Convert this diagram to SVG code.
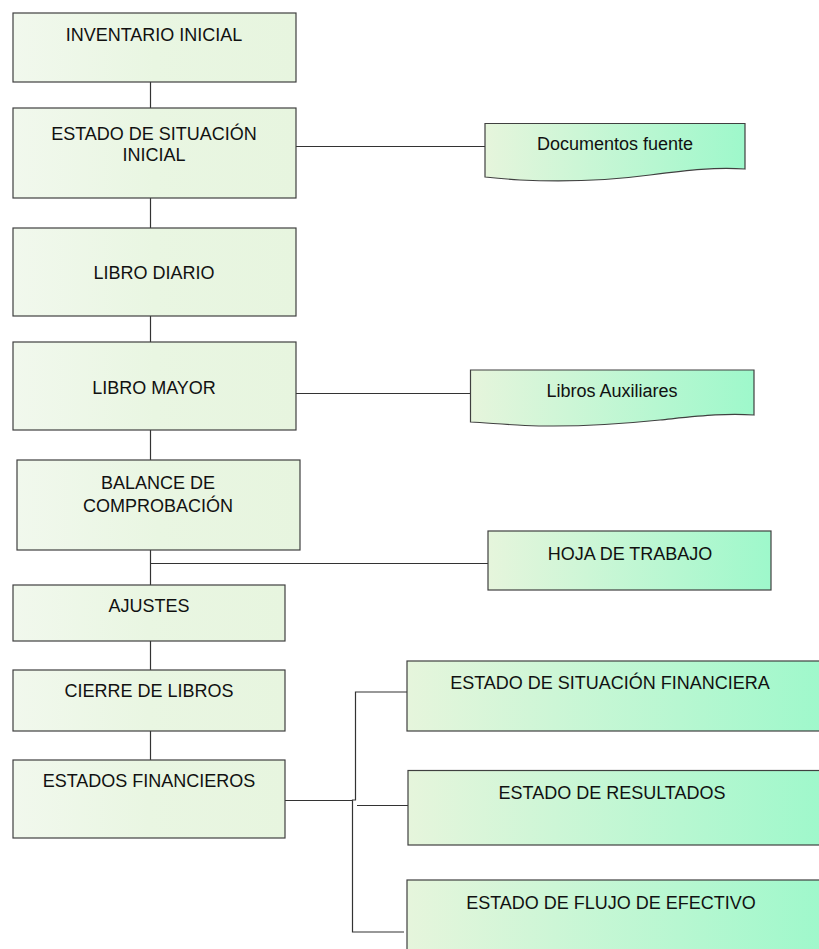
<svg xmlns="http://www.w3.org/2000/svg" width="819" height="949" viewBox="0 0 819 949">
<style>
.l{fill:url(#gl);stroke:#404040;stroke-width:1.2}
.r{fill:url(#gr);stroke:#404040;stroke-width:1.2}
text{font-family:"Liberation Sans",Arial,sans-serif;font-size:18px;fill:#111;text-anchor:middle}
.c{stroke:#333;stroke-width:1.2;fill:none}
</style>
<defs>
<linearGradient id="gl" x1="0" y1="0" x2="1" y2="0"><stop offset="0" stop-color="#f1f8ed"/><stop offset="0.5" stop-color="#e9f6e2"/><stop offset="1" stop-color="#e7f5df"/></linearGradient>
<linearGradient id="gr" x1="0" y1="0" x2="1" y2="0"><stop offset="0" stop-color="#e6f5dc"/><stop offset="1" stop-color="#9ef8cb"/></linearGradient>
</defs>
<rect width="819" height="949" fill="#fff"/>
<g id="connectors">
<line class="c" x1="150.5" y1="79" x2="150.5" y2="108"/>
<line class="c" x1="150.5" y1="198" x2="150.5" y2="228"/>
<line class="c" x1="150.5" y1="316" x2="150.5" y2="342"/>
<line class="c" x1="150.5" y1="430" x2="150.5" y2="460"/>
<line class="c" x1="150.5" y1="550" x2="150.5" y2="585"/>
<line class="c" x1="150.5" y1="563.5" x2="488" y2="563.5"/>
<line class="c" x1="150.5" y1="641" x2="150.5" y2="670"/>
<line class="c" x1="150.5" y1="731" x2="150.5" y2="760"/>
<line class="c" x1="296" y1="146.5" x2="485" y2="146.5"/>
<line class="c" x1="296" y1="393.5" x2="470" y2="393.5"/>
<line class="c" x1="285" y1="800.5" x2="352.5" y2="800.5"/>
<polyline class="c" points="407,692 355.5,692 355.5,800 352.5,800 352.5,932 404,932"/>
<line class="c" x1="357" y1="805.5" x2="408" y2="805.5"/>
</g>
<g id="n1"><rect class="l" x="13" y="13" width="283" height="69"/><text x="154" y="41">INVENTARIO INICIAL</text></g>
<g id="n2"><rect class="l" x="13" y="108" width="283" height="90"/><text x="154" y="140">ESTADO DE SITUACIÓN</text><text x="154" y="161">INICIAL</text></g>
<g id="n3"><rect class="l" x="13" y="228" width="283" height="88"/><text x="154" y="279">LIBRO DIARIO</text></g>
<g id="n4"><rect class="l" x="13" y="342" width="283" height="88"/><text x="154" y="394">LIBRO MAYOR</text></g>
<g id="n5"><rect class="l" x="17" y="460" width="283" height="90"/><text x="158" y="489">BALANCE DE</text><text x="158" y="512">COMPROBACIÓN</text></g>
<g id="n6"><rect class="l" x="13" y="585" width="272" height="56"/><text x="149" y="612">AJUSTES</text></g>
<g id="n7"><rect class="l" x="13" y="670" width="272" height="61"/><text x="149" y="697">CIERRE DE LIBROS</text></g>
<g id="n8"><rect class="l" x="13" y="760" width="272" height="78"/><text x="149" y="787">ESTADOS FINANCIEROS</text></g>
<g id="n9"><path class="r" d="M485,123.5 H745 V169 C715,167 690,170 650,175 C605,181 560,182 520,180 C505,179 495,178 485,177 Z"/><text x="615" y="150">Documentos fuente</text></g>
<g id="n10"><path class="r" d="M470.5,370 H754 V415 C724,413 700,416 660,420 C612,425 565,427 525,425.5 C505,424.5 488,423 470.5,422 Z"/><text x="612" y="397">Libros Auxiliares</text></g>
<g id="n11"><rect class="r" x="488" y="531" width="283" height="59"/><text x="630" y="560">HOJA DE TRABAJO</text></g>
<g id="n12"><rect class="r" x="407" y="661" width="420" height="70"/><text x="610" y="689">ESTADO DE SITUACIÓN FINANCIERA</text></g>
<g id="n13"><rect class="r" x="408" y="770.5" width="420" height="74.5"/><text x="612" y="799">ESTADO DE RESULTADOS</text></g>
<g id="n14"><rect class="r" x="407" y="880" width="420" height="80"/><text x="611" y="909">ESTADO DE FLUJO DE EFECTIVO</text></g>
</svg>
